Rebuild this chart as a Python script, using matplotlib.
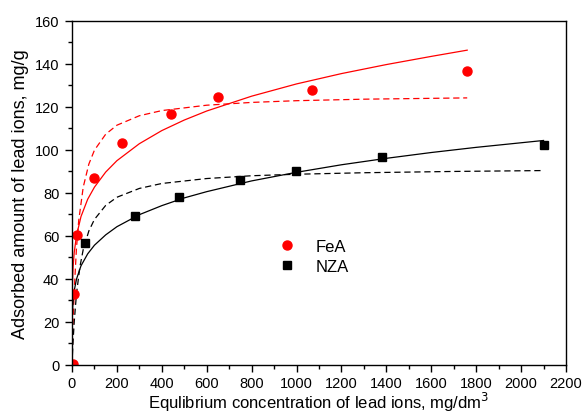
import matplotlib
matplotlib.use("Agg")
import matplotlib.pyplot as plt
from matplotlib.ticker import MultipleLocator

plt.rcParams['font.family'] = ['Liberation Sans', 'DejaVu Sans']

# measured points
fea_c = [3, 9, 21, 98, 224, 440, 650, 1071, 1761]
fea_q = [0.3, 32.8, 60.2, 86.8, 103.2, 116.8, 124.6, 127.8, 136.4]
nza_c = [58, 280, 478, 748, 998, 1379, 2102]
nza_q = [56.4, 69.0, 77.8, 86.0, 90.0, 96.8, 102.3]

# fitted curves
fea_fr_c = [0, 0.5, 2, 5, 10, 20, 40, 70, 100, 150, 200, 300, 400, 500, 600, 800, 1000, 1200, 1400, 1600, 1760]
fea_fr_q = [0, 28.8, 38.0, 45.6, 52.3, 60.0, 68.9, 77.0, 82.6, 89.6, 94.9, 102.8, 108.9, 113.8, 118.0, 124.9, 130.6, 135.4, 139.6, 143.4, 146.3]
fea_la_c = [0, 2, 5, 10, 20, 30, 50, 75, 100, 150, 200, 300, 400, 600, 800, 1000, 1300, 1760]
fea_la_q = [0, 8.9, 20.1, 34.7, 54.4, 67.1, 82.6, 93.3, 99.8, 107.2, 111.4, 115.8, 118.2, 120.7, 122.0, 122.8, 123.5, 124.1]
nza_fr_c = [0, 0.5, 2, 5, 10, 20, 40, 70, 100, 150, 200, 300, 400, 500, 600, 800, 1000, 1200, 1400, 1600, 1800, 2100]
nza_fr_q = [0, 18.5, 24.7, 29.9, 34.5, 39.8, 46.0, 51.6, 55.6, 60.4, 64.2, 69.8, 74.0, 77.6, 80.5, 85.5, 89.5, 93.0, 96.0, 98.7, 101.1, 104.3]
nza_la_c = [0, 2, 5, 10, 20, 35, 50, 75, 100, 150, 200, 300, 400, 600, 800, 1000, 1300, 1700, 2090]
nza_la_q = [0, 4.9, 11.3, 20.1, 33.0, 45.4, 53.6, 62.2, 67.6, 74.1, 77.9, 82.0, 84.3, 86.6, 87.9, 88.6, 89.3, 89.9, 90.3]

fig = plt.figure(figsize=(5.82, 4.14), dpi=100)
ax = fig.add_axes([0.1237, 0.1165, 0.8488, 0.8311])

# solid = Freundlich, dashed = Langmuir
ax.plot(fea_fr_c, fea_fr_q, color='#ff0000', lw=0.9)
ax.plot(fea_la_c, fea_la_q, color='#ff0000', lw=0.9, ls=(0, (5, 3)))
ax.plot(nza_fr_c, nza_fr_q, color='black', lw=0.9)
ax.plot(nza_la_c, nza_la_q, color='black', lw=0.9, ls=(0, (5, 3)))

ax.plot(fea_c, fea_q, 'o', color='#ff0000', ms=6.5, label='FeA')
ax.plot(nza_c, nza_q, 's', color='black', ms=5.5, label='NZA')

ax.set_xlim(0, 2200)
ax.set_ylim(0, 160)
ax.xaxis.set_major_locator(MultipleLocator(200))
ax.xaxis.set_minor_locator(MultipleLocator(100))
ax.yaxis.set_major_locator(MultipleLocator(20))
ax.yaxis.set_minor_locator(MultipleLocator(10))
ax.tick_params(which='both', direction='out', top=False, right=False, labelsize=10.5, pad=4)
ax.tick_params(axis='x', pad=3)
ax.tick_params(which='major', length=5, width=1)
ax.tick_params(which='minor', length=3, width=1)
for s in ax.spines.values():
    s.set_linewidth(1)

ax.set_xlabel('Equlibrium concentration of lead ions, mg/dm$^3$', fontsize=12, labelpad=0)
ax.set_ylabel('Adsorbed amount of lead ions, mg/g', fontsize=13, labelpad=4)

ax.legend(loc='upper left', bbox_to_anchor=(0.388, 0.41), frameon=False, fontsize=12,
          handlelength=1, handletextpad=1.2, labelspacing=0.3)

fig.savefig('out.png', dpi=100)
